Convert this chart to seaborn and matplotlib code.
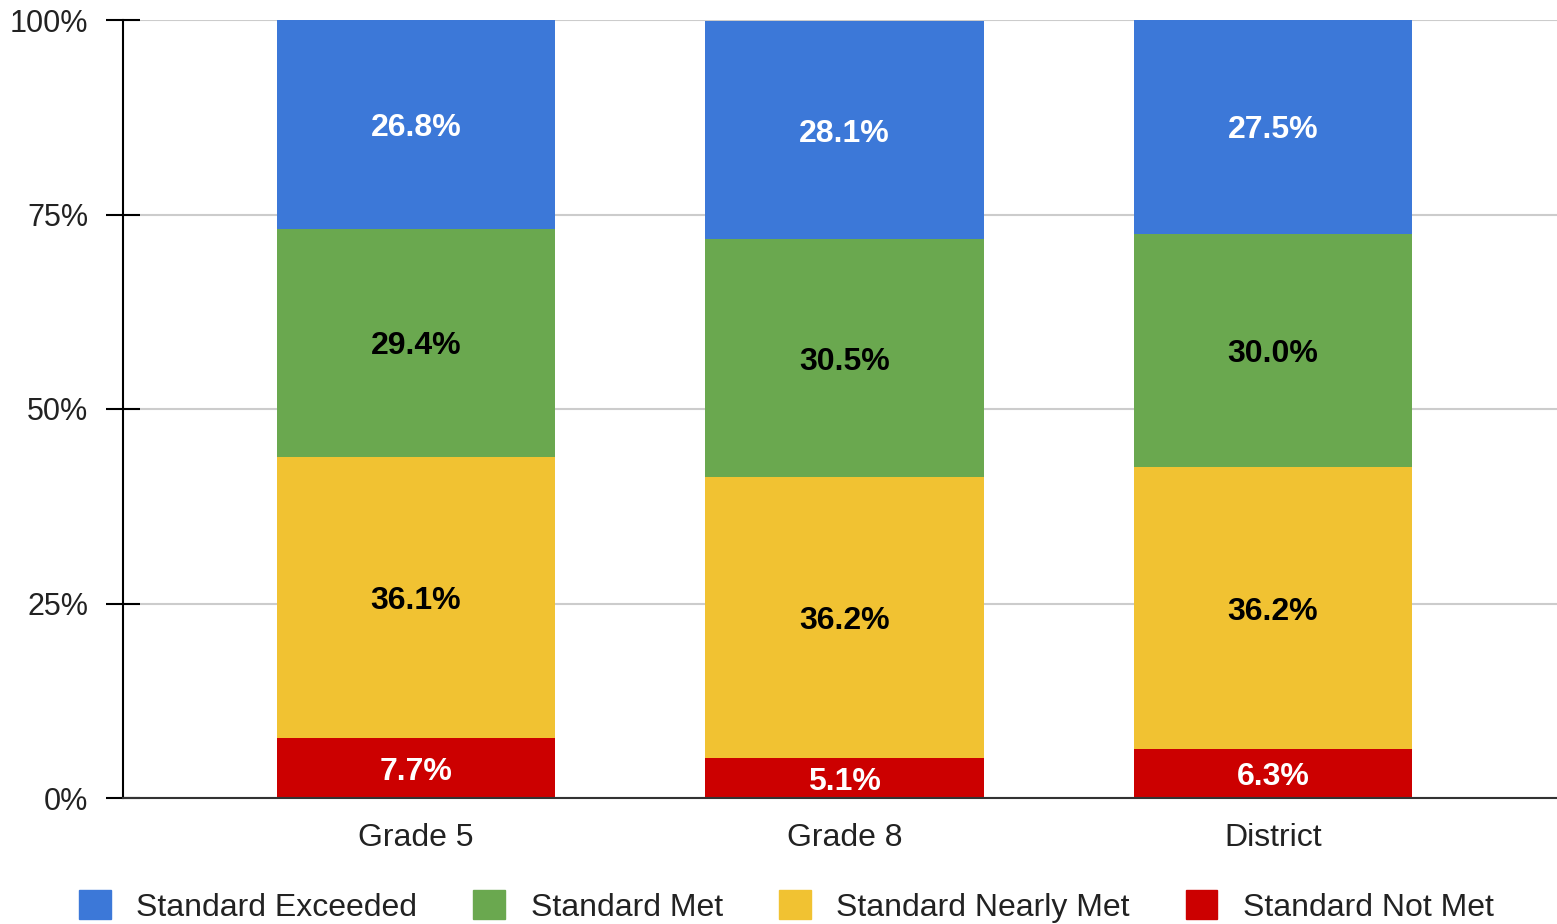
import matplotlib
matplotlib.use("Agg")
import matplotlib.pyplot as plt
import seaborn as sns
import pandas as pd
import numpy as np
from matplotlib.patches import Patch

categories = ["Grade 5", "Grade 8", "District"]
series_names = ["Standard Exceeded", "Standard Met", "Standard Nearly Met", "Standard Not Met"]
not_met = [7.7, 5.1, 6.3]
nearly_met = [36.1, 36.2, 36.2]
met = [29.4, 30.5, 30.0]
exceeded = [26.8, 28.1, 27.5]
y_ticks = [0, 25, 50, 75, 100]
y_tick_labels = ["0%", "25%", "50%", "75%", "100%"]

colors = {"Standard Exceeded": "#3c78d8", "Standard Met": "#6aa84f",
          "Standard Nearly Met": "#f1c232", "Standard Not Met": "#cc0000"}
text_colors = {"Standard Exceeded": "white", "Standard Met": "black",
               "Standard Nearly Met": "black", "Standard Not Met": "white"}

sns.set_theme(style="white")
plt.rcParams["font.family"] = ["Liberation Sans", "DejaVu Sans"]

fig = plt.figure(figsize=(15.57, 9.24), dpi=100)
ax = fig.add_axes([123/1557, 126/924, 1 - 123/1557, 778/924])

stack_order = [("Standard Not Met", not_met), ("Standard Nearly Met", nearly_met),
               ("Standard Met", met), ("Standard Exceeded", exceeded)]
bottom = np.zeros(len(categories))
for name, vals in stack_order:
    df = pd.DataFrame({"cat": categories, "val": vals})
    sns.barplot(data=df, x="cat", y="val", ax=ax, color=colors[name], width=0.65,
                bottom=bottom, saturation=1, zorder=3, linewidth=0, order=categories)
    for i, v in enumerate(vals):
        ax.text(i, bottom[i] + v / 2, f"{v:.1f}%", ha="center", va="center_baseline",
                fontsize=23, fontweight="bold", color=text_colors[name], zorder=5)
    bottom = bottom + np.array(vals)

ax.set_ylim(0, 100)
ax.set_xlim(-0.684, 2.663)
ax.set_yticks(y_ticks)
ax.set_yticklabels(y_tick_labels, fontsize=22, color="#222222")
ax.tick_params(axis="y", left=True, direction="inout", length=24, width=1.5,
               color="black", pad=13)
ax.tick_params(axis="x", length=0, labelsize=23, labelcolor="#222222", pad=18)
ax.set_xlabel("")
ax.set_ylabel("")
ax.yaxis.grid(True, color="#cccccc", linewidth=1.5, zorder=0)
ax.set_axisbelow(True)
for s in ["top", "right"]:
    ax.spines[s].set_visible(False)
ax.spines["left"].set_color("black")
ax.spines["left"].set_linewidth(1.5)
ax.spines["bottom"].set_color("#333333")
ax.spines["bottom"].set_linewidth(1.5)
ax.spines["bottom"].set_zorder(6)

handles = [Patch(facecolor=colors[n], edgecolor=colors[n], label=n) for n in series_names]
fig.legend(handles=handles, loc="center", bbox_to_anchor=(0.505, 0.019), ncol=4,
           frameon=False, fontsize=23, handlelength=1.0, handleheight=1.0,
           handletextpad=0.8, columnspacing=1.75, labelcolor="#222222")

fig.savefig("out.png", dpi=100)
